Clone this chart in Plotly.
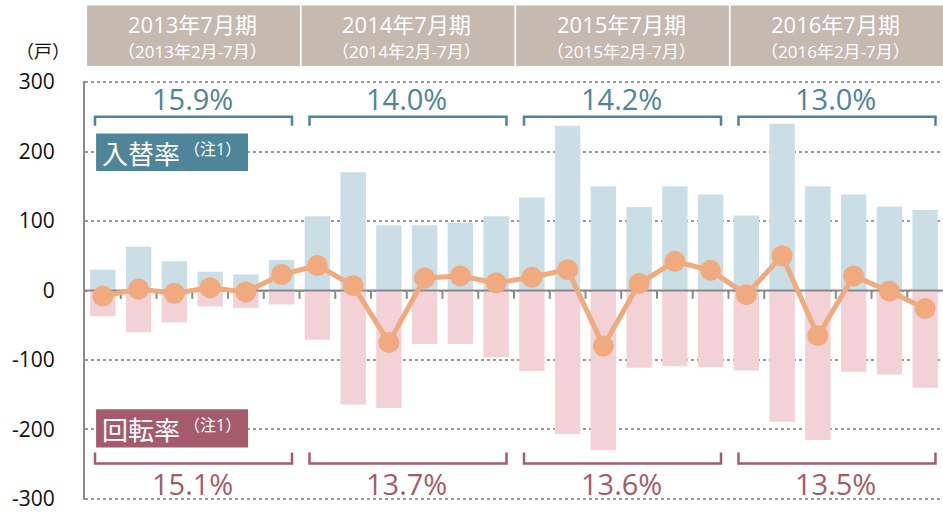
import plotly.graph_objects as go

# ---------------- data ----------------
months = [
    "2013年2月", "2013年3月", "2013年4月", "2013年5月", "2013年6月", "2013年7月",
    "2014年2月", "2014年3月", "2014年4月", "2014年5月", "2014年6月", "2014年7月",
    "2015年2月", "2015年3月", "2015年4月", "2015年5月", "2015年6月", "2015年7月",
    "2016年2月", "2016年3月", "2016年4月", "2016年5月", "2016年6月", "2016年7月",
]
move_in = [30, 63, 42, 27, 23, 44, 107, 170, 94, 94, 98, 107,
           134, 237, 150, 120, 150, 138, 108, 240, 150, 138, 121, 116]
move_out = [-37, -60, -46, -23, -25, -20, -71, -164, -169, -77, -77, -96,
            -116, -207, -230, -111, -109, -110, -115, -189, -215, -117, -121, -140]
net = [-8, 2, -4, 4, -2, 23, 36, 7, -75, 18, 21, 11,
       19, 30, -80, 10, 42, 29, -6, 50, -65, 21, -1, -26]

periods = ["2013年7月期", "2014年7月期", "2015年7月期", "2016年7月期"]
period_sub = ["（2013年2月-7月）", "（2014年2月-7月）", "（2015年2月-7月）", "（2016年2月-7月）"]
replace_rate = ["15.9%", "14.0%", "14.2%", "13.0%"]
turnover_rate = ["15.1%", "13.7%", "13.6%", "13.5%"]
y_ticks = [-300, -200, -100, 0, 100, 200, 300]

# ---------------- style ----------------
W, H = 943, 512
ML, MR, MT, MB = 85, 0, 81, 9
Y_RANGE = [-301.5, 301.5]
BLUE_BAR = "#c9dee5"
PINK_BAR = "#f2d1d7"
LINE_C = "#f0aa7e"
BLUE_T = "#4e8598"
PINK_T = "#a65b6c"
HEAD = "#c5b9b0"
FONT = "Open Sans, Noto Sans CJK JP, sans-serif"
CJK = "Noto Sans CJK JP, sans-serif"

def py(px):
    return (H - MB - px) / (H - MT - MB)

def pxx(px):
    return (px - ML) / (W - ML - MR)

x_idx = list(range(len(months)))
n_per = 6

fig = go.Figure()
fig.add_trace(go.Bar(x=x_idx, y=move_in, marker_color=BLUE_BAR, width=0.71,
                     marker_line_width=0, hovertext=months, name="入居"))
fig.add_trace(go.Bar(x=x_idx, y=move_out, marker_color=PINK_BAR, width=0.71,
                     marker_line_width=0, hovertext=months, name="退去"))
# zero line & boundary ticks (between bars and line)
fig.add_trace(go.Scatter(x=[-0.55, len(months) - 0.5], y=[0, 0], mode="lines",
                         line=dict(color="#8a8a8a", width=2), hoverinfo="skip"))
tx, ty = [], []
for k in range(len(months) - 1):
    tx += [k + 0.5, k + 0.5, None]
    ty += [0, -12, None]
fig.add_trace(go.Scatter(x=tx, y=ty, mode="lines", line=dict(color="#8a8a8a", width=2),
                         hoverinfo="skip"))
fig.add_trace(go.Scatter(x=x_idx, y=net, mode="lines+markers", hovertext=months,
                         line=dict(color=LINE_C, width=5),
                         marker=dict(color=LINE_C, size=21), name="純増"))

shapes = []
ann = []

def A(**kw):
    kw.setdefault("showarrow", False)
    kw.setdefault("xanchor", "center")
    kw.setdefault("yanchor", "middle")
    ann.append(kw)

for g in range(len(periods)):
    s = g * n_per
    c = s + (n_per - 1) / 2
    # header box
    shapes.append(dict(type="rect", xref="x", yref="paper", x0=s - 0.44, x1=s + n_per - 0.49,
                       y0=py(66), y1=py(5), fillcolor=HEAD, line_width=0, layer="above"))
    A(x=c, y=py(24), xref="x", yref="paper", text=periods[g],
      font=dict(size=22, color="white", family=FONT))
    A(x=c, y=py(51), xref="x", yref="paper", text=period_sub[g],
      font=dict(size=17, color="white", family=FONT))
    # top bracket
    x0, x1 = s - 0.22, s + n_per - 0.71
    shapes.append(dict(type="path", xref="x", yref="y",
                       path=f"M {x0},237 L {x0},250 L {x1},250 L {x1},237",
                       line=dict(color=BLUE_T, width=2.5)))
    A(x=c, y=276, xref="x", yref="y", text=replace_rate[g],
      font=dict(size=29, color=BLUE_T, family=FONT))
    # bottom bracket
    shapes.append(dict(type="path", xref="x", yref="y",
                       path=f"M {x0},-233 L {x0},-249 L {x1},-249 L {x1},-233",
                       line=dict(color=PINK_T, width=2.5)))
    A(x=c, y=-278, xref="x", yref="y", text=turnover_rate[g],
      font=dict(size=29, color=PINK_T, family=FONT))

# label boxes
shapes.append(dict(type="rect", xref="x", yref="y", x0=-0.19, x1=4.06, y0=172, y1=226,
                   fillcolor=BLUE_T, line_width=0))
shapes.append(dict(type="rect", xref="x", yref="y", x0=-0.19, x1=4.06, y0=-226, y1=-171,
                   fillcolor=PINK_T, line_width=0))
A(x=-0.08, y=199, xref="x", yref="y", xanchor="left", text="入替率",
  font=dict(size=26, color="white", family=CJK))
A(x=2.2, y=204, xref="x", yref="y", xanchor="left", text="（注1）",
  font=dict(size=16, color="white", family=FONT))
A(x=-0.08, y=-199, xref="x", yref="y", xanchor="left", text="回転率",
  font=dict(size=26, color="white", family=CJK))
A(x=2.2, y=-194, xref="x", yref="y", xanchor="left", text="（注1）",
  font=dict(size=16, color="white", family=FONT))
# unit label
A(x=pxx(43), y=py(51), xref="paper", yref="paper", text="（戸）",
  font=dict(size=18, color="#111", family=FONT))

fig.update_layout(
    width=W, height=H, margin=dict(l=ML, r=MR, t=MT, b=MB),
    paper_bgcolor="white", plot_bgcolor="white",
    barmode="relative", showlegend=False,
    shapes=shapes, annotations=ann,
    font=dict(family=FONT),
)
fig.update_xaxes(range=[-0.5, len(months) - 0.5], showgrid=False, showline=False,
                 zeroline=False, showticklabels=False, ticks="")
fig.update_yaxes(range=Y_RANGE, tickvals=y_ticks, ticktext=[str(v) for v in y_ticks],
                 showgrid=True, gridcolor="#9a9a9a", griddash="dot", gridwidth=1.5,
                 showline=True, linecolor="#8a8a8a", linewidth=2, zeroline=False,
                 ticks="", ticklabelstandoff=24, ticklabeloverflow="allow",
                 tickfont=dict(size=21, color="#111", family=FONT))

fig.write_html("out.html", config={"displayModeBar": False},
               post_script="document.body.style.margin='0';")
